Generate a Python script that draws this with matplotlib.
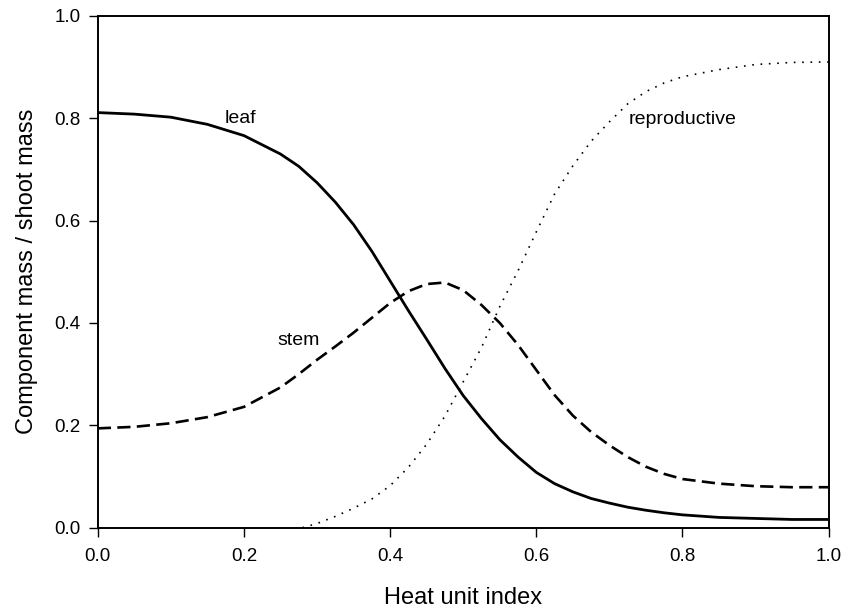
import matplotlib as mpl
import matplotlib.pyplot as plt
from matplotlib.ticker import FormatStrFormatter

mpl.use("Agg")

plt.rcParams["font.family"] = ["Liberation Sans", "DejaVu Sans"]

# heat unit index
hui = [0.0, 0.05, 0.1, 0.15, 0.2, 0.25, 0.275, 0.3, 0.325, 0.35, 0.375, 0.4,
       0.425, 0.45, 0.475, 0.5, 0.525, 0.55, 0.575, 0.6, 0.625, 0.65, 0.675,
       0.7, 0.725, 0.75, 0.775, 0.8, 0.85, 0.9, 0.95, 1.0]

# component mass / shoot mass
leaf = [0.811, 0.808, 0.802, 0.788, 0.766, 0.730, 0.706, 0.674, 0.636, 0.592,
        0.540, 0.482, 0.424, 0.368, 0.311, 0.258, 0.213, 0.172, 0.138, 0.108,
        0.086, 0.070, 0.057, 0.048, 0.040, 0.034, 0.029, 0.025, 0.020, 0.018,
        0.016, 0.016]
stem = [0.194, 0.197, 0.204, 0.216, 0.236, 0.274, 0.300, 0.328, 0.354, 0.381,
        0.410, 0.439, 0.462, 0.476, 0.479, 0.464, 0.435, 0.400, 0.357, 0.308,
        0.259, 0.219, 0.187, 0.161, 0.138, 0.119, 0.105, 0.095, 0.086, 0.081,
        0.079, 0.079]

hui_r = [0.28, 0.3, 0.325, 0.35, 0.375, 0.4, 0.425, 0.45, 0.475, 0.5, 0.525,
         0.55, 0.575, 0.6, 0.625, 0.65, 0.675, 0.7, 0.725, 0.75, 0.775, 0.8,
         0.85, 0.9, 0.95, 1.0]
repro = [0.0, 0.008, 0.022, 0.038, 0.056, 0.082, 0.118, 0.163, 0.218, 0.285,
         0.352, 0.432, 0.502, 0.578, 0.652, 0.707, 0.755, 0.793, 0.828, 0.852,
         0.869, 0.881, 0.895, 0.905, 0.909, 0.910]

ticks = [0.0, 0.2, 0.4, 0.6, 0.8, 1.0]

fig = plt.figure(figsize=(8.43, 6.10), dpi=100)
ax = fig.add_axes([0.116, 0.135, 0.867, 0.839])

ax.plot(hui, leaf, color="black", lw=2.0)
ax.plot(hui, stem, color="black", lw=1.9, dashes=(5, 2.4))
ax.plot(hui_r, repro, color="black", lw=1.2, dashes=(1, 4))

ax.text(0.195, 0.80, "leaf", ha="center", va="center", fontsize=14)
ax.text(0.275, 0.366, "stem", ha="center", va="center", fontsize=14)
ax.text(0.80, 0.797, "reproductive", ha="center", va="center", fontsize=14)

ax.set_xlim(0, 1)
ax.set_ylim(0, 1)
ax.set_xticks(ticks)
ax.set_yticks(ticks)
ax.xaxis.set_major_formatter(FormatStrFormatter("%.1f"))
ax.yaxis.set_major_formatter(FormatStrFormatter("%.1f"))
ax.tick_params(direction="out", length=6.5, width=1.0, labelsize=13.5)
ax.tick_params(axis="x", pad=8)
ax.tick_params(axis="y", pad=6)
for s in ax.spines.values():
    s.set_linewidth(1.4)

ax.set_xlabel("Heat unit index", fontsize=17, labelpad=16)
ax.set_ylabel("Component mass / shoot mass", fontsize=17, labelpad=12)

fig.savefig("out.png", dpi=100)
